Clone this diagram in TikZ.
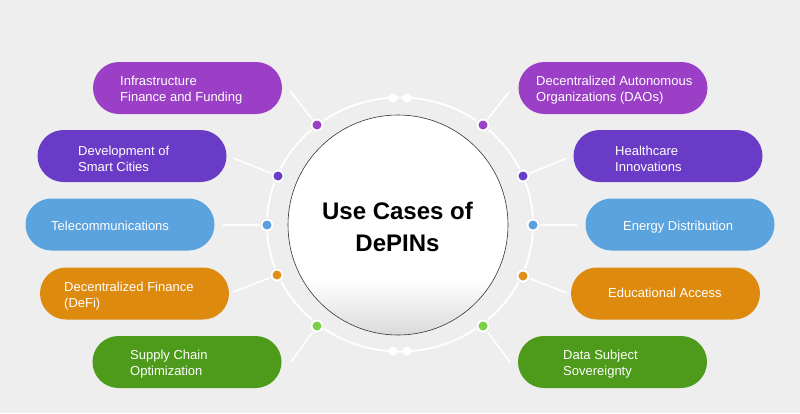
\documentclass[tikz,border=0pt]{standalone}
\usepackage{fontspec}
\setmainfont{Liberation Sans}
\usetikzlibrary{calc}
\definecolor{bg}{HTML}{EEEEEE}
\definecolor{cpur}{HTML}{9B3FC6}
\definecolor{cvio}{HTML}{6A3BC6}
\definecolor{cblu}{HTML}{5BA3DE}
\definecolor{cora}{HTML}{DE8A0E}
\definecolor{cgre}{HTML}{4E9A1A}
\definecolor{dpur}{HTML}{9B40C8}
\definecolor{dvio}{HTML}{6A3CC8}
\definecolor{dblu}{HTML}{5B9FE0}
\definecolor{dora}{HTML}{E0901A}
\definecolor{dgre}{HTML}{7AD044}
\tikzset{
  pill/.style={rounded corners=26pt, minimum width=189pt, minimum height=52pt, inner sep=0pt, fill=#1, draw=none},
  lbl/.style={anchor=west, align=left, text=white, inner sep=0pt, font=\fontsize{13}{16}\selectfont},
  lblone/.style={lbl, text height=9.3pt, text depth=0pt},
  conn/.style={draw=white, line width=1.6pt},
  dotout/.style={circle, fill=white, draw=black!10, line width=0.4pt, minimum size=14pt, inner sep=0pt},
  dotin/.style={circle, fill=#1, minimum size=9pt, inner sep=0pt},
  tiny/.style={circle, fill=white, minimum size=9pt, inner sep=0pt}
}
\begin{document}
\begin{tikzpicture}[x=1pt,y=-1pt]
\useasboundingbox (0,0) rectangle (800,413);
\fill[bg] (0,0) rectangle (800,413);
% ring
\draw[white, line width=1.8pt] (400,224.5) ellipse [x radius=133, y radius=127];
% central circle
\fill[white] (398,225) circle [radius=110];
\begin{scope}
\clip (398,225) circle [radius=110];
\shade[top color=white, bottom color=black!15] (280,280) rectangle (520,336);
\end{scope}
\draw[black!80, line width=0.6pt] (398,225) circle [radius=110];
\node[font=\fontsize{24}{32}\selectfont\bfseries, align=center, inner sep=0pt] (title) at (397.5,227) {Use Cases of\\DePINs};
% boxes
\node[pill=cpur] (b1) at (187.5,88) {};
\node[pill=cvio] (b2) at (132,156) {};
\node[pill=cblu] (b3) at (120,224.5) {};
\node[pill=cora] (b4) at (134.5,293.5) {};
\node[pill=cgre] (b5) at (187,362) {};
\node[pill=cpur] (b6) at (613,88) {};
\node[pill=cvio] (b7) at (668,156) {};
\node[pill=cblu] (b8) at (680,224.5) {};
\node[pill=cora] (b9) at (665.5,293.5) {};
\node[pill=cgre] (b10) at (612.5,362) {};
% labels
\node[lbl] (t1) at (120,90.5) {Infrastructure\\Finance and Funding};
\node[lbl] (t2) at (78,159) {Development of\\Smart Cities};
\node[lblone] (t3) at (51,226) {Telecommunications};
\node[lbl] (t4) at (64,296) {Decentralized Finance\\(DeFi)};
\node[lbl] (t5) at (130,364.5) {Supply Chain\\Optimization};
\node[lbl] (t6) at (536,90.5) {Decentralized Autonomous\\Organizations (DAOs)};
\node[lbl] (t7) at (615,158.5) {Healthcare\\Innovations};
\node[lblone] (t8) at (623,225.5) {Energy Distribution};
\node[lblone] (t9) at (608,293) {Educational Access};
\node[lbl] (t10) at (563,364.5) {Data Subject\\Sovereignty};
% connector free ends
\coordinate (c1) at (290,91);
\coordinate (c2) at (233,158);
\coordinate (c3) at (223,225);
\coordinate (c4) at (233,292);
\coordinate (c5) at (291,362);
\coordinate (c6) at (509,92);
\coordinate (c7) at (567,158);
\coordinate (c8) at (577,225);
\coordinate (c9) at (567,293);
\coordinate (c10) at (510,362);
% dots
\node[dotout] (d1) at (317,125) {};
\node[dotout] (d2) at (278,176) {};
\node[dotout] (d3) at (267,225) {};
\node[dotout] (d4) at (277,275) {};
\node[dotout] (d5) at (317,326) {};
\node[dotout] (d6) at (483,125) {};
\node[dotout] (d7) at (523,176) {};
\node[dotout] (d8) at (533,225) {};
\node[dotout] (d9) at (523,276) {};
\node[dotout] (d10) at (483,326) {};
\foreach \i in {1,...,10} \draw[conn] (c\i) -- (d\i);
\foreach \i/\c in {1/dpur,2/dvio,3/dblu,4/dora,5/dgre,6/dpur,7/dvio,8/dblu,9/dora,10/dgre}
  {\node[dotout] at (d\i) {}; \node[dotin=\c] (i\i) at (d\i) {};}
% small dots
\node[tiny] (s1) at (393,98) {};
\node[tiny] (s2) at (407,98) {};
\node[tiny] (s3) at (393,351) {};
\node[tiny] (s4) at (407,351) {};
\end{tikzpicture}
\end{document}
